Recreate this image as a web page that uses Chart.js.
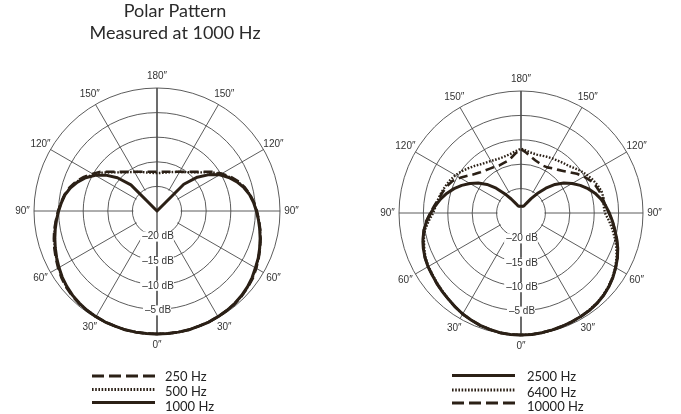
<!DOCTYPE html>
<html>
<head>
<meta charset="utf-8">
<script src="https://cdn.jsdelivr.net/npm/chart.js@4"></script>
<style>
  html, body { margin: 0; padding: 0; background: #fff; }
  #wrap { position: relative; width: 681px; height: 414px; }
  .box { position: absolute; top: 0; height: 414px; }
  #boxL { left: 0; width: 340px; }
  #boxR { left: 340px; width: 341px; }
</style>
</head>
<body>
<div id="wrap">
  <div class="box" id="boxL"><canvas id="left"></canvas></div>
  <div class="box" id="boxR"><canvas id="right"></canvas></div>
</div>
<script>
// angle of each sample, clockwise from 0 deg at the bottom (left side first, then back down the right side)
const angles = [0, 5, 10, 15, 20, 25, 30, 35, 40, 45, 50, 55, 60, 65, 70, 75, 80, 85, 90, 95, 100, 105, 110, 115,
  120, 125, 130, 135, 140, 145, 150, 155, 160, 165, 170, 175, 180, 185, 190, 195, 200, 205, 210, 215, 220, 225,
  230, 235, 240, 245, 250, 255, 260, 265, 270, 275, 280, 285, 290, 295, 300, 305, 310, 315, 320, 325, 330, 335,
  340, 345, 350, 355];

const degreeTicks = ["0″", "30″", "60″", "90″", "120″", "150″", "180″", "150″", "120″", "90″", "60″", "30″"];
const dbTickValues = [-20, -15, -10, -5];
const dbTickLabels = ["–20 dB", "–15 dB", "–10 dB", "–5 dB"];

const leftLabels = ["250 Hz", "500 Hz", "1000 Hz"];
const rightLabels = ["2500 Hz", "6400 Hz", "10000 Hz"];

// left plot (dB)
const left250 = [
  0, 0, 0, 0, -0.1, -0.1, -0.2, -0.3, -0.4, -0.6, -0.9, -1.3, -1.8, -2.3, -2.8, -3.3, -3.8, -4.4, -4.9,
  -5.4, -5.9, -6.6, -7.5, -8.6, -9.9, -11.1, -12.6, -13.75, -14.6, -15.3, -15.8, -16.2, -16.5, -16.75, -16.9, -17.0, -17.05,
  -17.0, -16.9, -16.75, -16.5, -16.2, -15.8, -15.3, -14.6, -13.75, -12.6, -11.1, -9.8, -8.5, -7.4, -6.5, -5.8, -5.2,
  -4.7, -4.2, -3.7, -3.2, -2.7, -2.2, -1.7, -1.2, -0.9, -0.6, -0.4, -0.3, -0.2, -0.1, -0.1, 0, 0, 0
];
const left500 = [
  0, 0, 0, 0, -0.1, -0.1, -0.2, -0.3, -0.45, -0.7, -1.0, -1.4, -1.9, -2.4, -2.9, -3.4, -3.9, -4.45, -4.95,
  -5.45, -6.0, -6.7, -7.6, -8.8, -10.2, -11.4, -12.8, -13.9, -14.7, -15.35, -15.85, -16.25, -16.6, -16.9, -17.1, -17.25, -17.3,
  -17.25, -17.1, -16.9, -16.6, -16.25, -15.85, -15.35, -14.7, -13.9, -12.8, -11.3, -10.0, -8.7, -7.5, -6.6, -5.85, -5.25,
  -4.75, -4.25, -3.75, -3.25, -2.75, -2.25, -1.8, -1.3, -0.95, -0.65, -0.4, -0.3, -0.2, -0.1, -0.1, 0, 0, 0
];
const left1000 = [
  0, 0, 0, 0, -0.1, -0.1, -0.2, -0.3, -0.5, -0.75, -1.1, -1.5, -2.0, -2.5, -3.0, -3.5, -4.0, -4.5, -5.0,
  -5.5, -6.0, -6.8, -7.8, -9.0, -10.5, -12.3, -14.5, -17.5, -25, -25, -25, -25, -25, -25, -25, -25, -25,
  -25, -25, -25, -25, -25, -25, -25, -25, -17.3, -14.3, -12.1, -10.3, -8.9, -7.7, -6.7, -5.9, -5.3,
  -4.8, -4.3, -3.8, -3.3, -2.8, -2.3, -1.9, -1.4, -1.0, -0.7, -0.45, -0.3, -0.2, -0.1, -0.1, 0, 0, 0
];

// right plot (dB)
const right2500 = [
  0, 0, -0.1, -0.3, -0.5, -0.8, -1.1, -1.5, -1.9, -2.2, -2.5, -2.8, -3.0, -3.3, -3.7, -4.2, -4.8, -5.6, -6.5,
  -7.4, -8.3, -9.3, -10.4, -11.6, -12.9, -14.3, -15.9, -17.8, -19.9, -21.5, -22.6, -23.2, -23.5, -23.6, -23.6, -23.6, -23.6,
  -23.6, -23.6, -23.6, -23.5, -23.2, -22.6, -21.4, -19.8, -17.8, -15.9, -14.3, -12.9, -11.6, -10.4, -9.3, -8.4, -7.6,
  -6.9, -6.2, -5.5, -4.7, -3.9, -3.2, -2.6, -2.0, -1.5, -1.1, -0.8, -0.6, -0.5, -0.4, -0.3, -0.2, -0.1, 0
];
const right6400 = [
  0, 0, -0.1, -0.3, -0.5, -0.8, -1.1, -1.5, -1.9, -2.3, -2.6, -2.9, -3.1, -3.4, -3.9, -4.4, -5.0, -6.0, -7.0,
  -7.5, -7.8, -8.2, -8.6, -9.0, -9.5, -10.1, -10.8, -11.4, -12.0, -12.4, -12.7, -12.9, -13.0, -12.9, -12.7, -12.3, -11.8,
  -12.2, -12.5, -12.6, -12.5, -12.3, -12.1, -11.9, -11.6, -11.3, -10.7, -10.0, -9.4, -8.8, -8.3, -7.9, -7.8, -8.0,
  -7.8, -6.9, -6.0, -5.1, -4.2, -3.4, -2.7, -2.1, -1.6, -1.2, -0.9, -0.7, -0.5, -0.4, -0.3, -0.2, -0.1, 0
];
const right10000 = [
  0, 0, -0.1, -0.3, -0.5, -0.8, -1.1, -1.5, -1.9, -2.2, -2.5, -2.8, -3.0, -3.3, -3.7, -4.2, -4.8, -5.5, -6.4,
  -7.2, -7.9, -8.4, -8.9, -9.5, -10.6, -11.7, -12.6, -13.2, -13.6, -13.9, -14.1, -14.3, -14.2, -14.0, -13.5, -12.7, -11.9,
  -12.6, -13.3, -13.8, -14.1, -14.3, -14.2, -13.8, -13.4, -12.8, -12.0, -11.0, -10.1, -9.3, -8.7, -8.3, -8.0, -7.6,
  -7.0, -6.2, -5.5, -4.7, -3.9, -3.2, -2.6, -2.0, -1.5, -1.1, -0.8, -0.6, -0.5, -0.4, -0.3, -0.2, -0.1, 0
];

const curveColor = "#2b2016";
const gridColor = "#4a4a4a";
const textColor = "#333";
const smallFont = '10px "Liberation Sans", Arial, sans-serif';
const legendFont = '13px Lato, "Liberation Sans", sans-serif';
const titleFont = '18px Lato, "Liberation Sans", sans-serif';

const solid = { borderDash: [], borderWidth: 3, legendDash: [] };
const dashed = { borderDash: [9, 5], borderWidth: 2.6, legendDash: [12, 5] };
const dotted = { borderDash: [1.6, 1.6], borderWidth: 2.4, legendDash: [1.6, 1.6] };

// grid decoration, degree and dB labels, legend and title
const polarDecor = {
  id: "polarDecor",
  beforeDatasetsDraw(chart) {
    const s = chart.scales.r;
    const ctx = chart.ctx;
    ctx.save();
    // spokes stop at the -20 dB ring, only the 0/180 axis crosses the centre
    ctx.fillStyle = "#fff";
    ctx.beginPath();
    ctx.arc(s.xCenter, s.yCenter, s.getDistanceFromCenterForValue(-20) - 1, 0, Math.PI * 2);
    ctx.fill();
    const top = s.getPointPosition(36, s.drawingArea);
    const bot = s.getPointPosition(0, s.drawingArea);
    ctx.strokeStyle = gridColor;
    ctx.lineWidth = 1.3;
    ctx.beginPath();
    ctx.moveTo(top.x, top.y);
    ctx.lineTo(bot.x, bot.y);
    ctx.stroke();
    ctx.restore();
  },
  afterDraw(chart, args, opts) {
    const s = chart.scales.r;
    const ctx = chart.ctx;
    ctx.save();
    ctx.font = smallFont;
    ctx.fillStyle = textColor;
    ctx.textAlign = "center";
    ctx.textBaseline = "middle";
    degreeTicks.forEach((t, i) => {
      const p = s.getPointPosition(i * 6, s.drawingArea + 11.5);
      ctx.fillText(t, p.x, p.y);
    });
    dbTickValues.forEach((v, i) => {
      const p = s.getPointPosition(0, s.getDistanceFromCenterForValue(v) + 1);
      const w = ctx.measureText(dbTickLabels[i]).width;
      ctx.fillStyle = "#fff";
      ctx.fillRect(p.x - w / 2 - 1, p.y - 5, w + 2, 10);
      ctx.fillStyle = textColor;
      ctx.fillText(dbTickLabels[i], p.x + 1, p.y);
    });

    // legend
    ctx.textAlign = "left";
    ctx.font = legendFont;
    ctx.fillStyle = "#222";
    chart.data.datasets.forEach((ds, i) => {
      const y = opts.lineY[i];
      ctx.save();
      ctx.strokeStyle = ds.borderColor;
      ctx.lineWidth = 3;
      ctx.setLineDash(ds.legendDash);
      ctx.beginPath();
      ctx.moveTo(opts.lineX[0], y);
      ctx.lineTo(opts.lineX[1], y);
      ctx.stroke();
      ctx.restore();
      ctx.fillText(ds.label, opts.textX, opts.textY[i]);
    });

    if (opts.title) {
      ctx.font = titleFont;
      ctx.fillStyle = "#2a2a2a";
      ctx.textAlign = "center";
      ctx.textBaseline = "alphabetic";
      opts.title.forEach((line, i) => ctx.fillText(line, opts.titleX, opts.titleY[i]));
    }
    ctx.restore();
  }
};

function polarOptions(padding, decor) {
  return {
    responsive: true,
    maintainAspectRatio: false,
    animation: false,
    layout: { padding },
    elements: {
      point: { radius: 0, hoverRadius: 0 },
      line: { tension: 0, fill: false, borderColor: curveColor, borderCapStyle: "butt", borderJoinStyle: "round" },
    },
    scales: {
      r: {
        min: -25,
        max: 0,
        startAngle: 180,
        ticks: { display: false, stepSize: 5 },
        pointLabels: { display: false },
        grid: { circular: true, color: gridColor, lineWidth: 0.9 },
        angleLines: {
          color: gridColor,
          lineWidth: (ctx) => (ctx.index % 6 === 0 ? 0.9 : 0),
        },
      },
    },
    plugins: {
      legend: { display: false },
      tooltip: { enabled: false },
      polarDecor: decor,
    },
  };
}

function makeDataset(label, data, style) {
  return {
    label: label,
    data: data,
    borderColor: curveColor,
    backgroundColor: "transparent",
    borderWidth: style.borderWidth,
    borderDash: style.borderDash,
    legendDash: style.legendDash,
    fill: false,
  };
}

new Chart(document.getElementById("left"), {
  type: "radar",
  data: {
    labels: angles.map((a) => a + "°"),
    datasets: [
      makeDataset(leftLabels[0], left250, dashed),
      makeDataset(leftLabels[1], left500, dotted),
      makeDataset(leftLabels[2], left1000, solid),
    ],
  },
  options: polarOptions(
    { left: 34, right: 59, top: 88, bottom: 79 },
    {
      lineX: [92, 155], lineY: [376, 389.5, 402.5],
      textX: 165, textY: [376.5, 392, 407],
      title: ["Polar Pattern", "Measured at 1000 Hz"],
      titleX: 175, titleY: [17, 39],
    }
  ),
  plugins: [polarDecor],
});

new Chart(document.getElementById("right"), {
  type: "radar",
  data: {
    labels: angles.map((a) => a + "°"),
    datasets: [
      makeDataset(rightLabels[0], right2500, solid),
      makeDataset(rightLabels[1], right6400, dotted),
      makeDataset(rightLabels[2], right10000, dashed),
    ],
  },
  options: polarOptions(
    { left: 59, right: 37, top: 91, bottom: 78 },
    {
      lineX: [112, 175], lineY: [375.5, 390, 403],
      textX: 187, textY: [377, 392.5, 407],
    }
  ),
  plugins: [polarDecor],
});
</script>
</body>
</html>
